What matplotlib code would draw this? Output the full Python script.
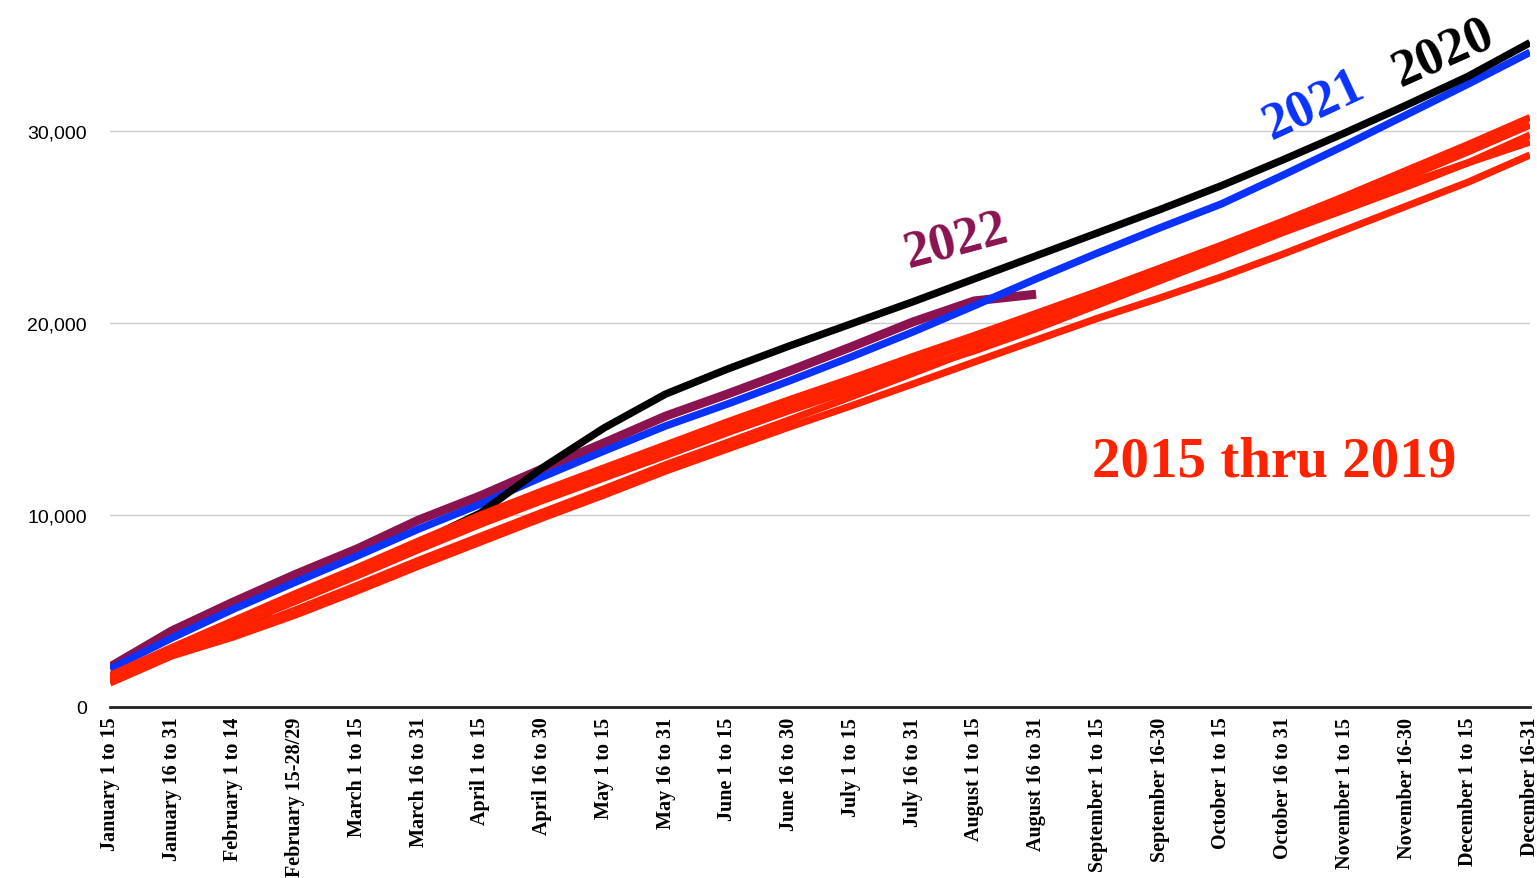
import matplotlib
matplotlib.use("Agg")
import matplotlib.pyplot as plt
from matplotlib.ticker import FuncFormatter

periods = ["January 1 to 15", "January 16 to 31", "February 1 to 14", "February 15-28/29",
           "March 1 to 15", "March 16 to 31", "April 1 to 15", "April 16 to 30",
           "May 1 to 15", "May 16 to 31", "June 1 to 15", "June 16 to 30",
           "July 1 to 15", "July 16 to 31", "August 1 to 15", "August 16 to 31",
           "September 1 to 15", "September 16-30", "October 1 to 15", "October 16 to 31",
           "November 1 to 15", "November 16-30", "December 1 to 15", "December 16-31"]

# 2015 thru 2019 (all drawn in red)
red_a = [1640, 3100, 4500, 5900, 7250, 8650, 10000, 11250, 12450, 13650, 14850, 16000,
         17100, 18250, 19350, 20500, 21650, 22850, 24050, 25300, 26600, 27950, 29300, 30700]
red_b = [1540, 2980, 4350, 5700, 7050, 8430, 9770, 11000, 12190, 13370, 14550, 15700,
         16780, 17900, 18970, 20120, 21300, 22520, 23730, 24980, 26250, 27580, 28920, 30310]
red_c = [1400, 2850, 4200, 5500, 6830, 8200, 9520, 10750, 11930, 13100, 14290, 15430,
         16500, 17550, 18550, 19700, 20950, 22200, 23450, 24720, 25900, 27100, 28350, 29790]
red_d = [1350, 2800, 3850, 5050, 6330, 7640, 8890, 10140, 11360, 12620, 13780, 14950,
         16150, 17380, 18620, 19900, 21150, 22350, 23550, 24800, 26050, 27250, 28350, 29430]
red_e = [1250, 2660, 3650, 4790, 6040, 7340, 8590, 9840, 11040, 12290, 13440, 14580,
         15680, 16820, 17970, 19110, 20250, 21300, 22400, 23590, 24840, 26090, 27340, 28750]

y2020 = [1600, 2900, 4000, 5650, 7050, 8550, 10100, 12450, 14530, 16300, 17600, 18800,
         19950, 21100, 22300, 23500, 24700, 25900, 27150, 28500, 29900, 31350, 32850, 34600]
y2021 = [1980, 3590, 5100, 6500, 7860, 9270, 10570, 11980, 13330, 14640, 15780, 16980,
         18230, 19530, 20900, 22300, 23650, 24950, 26200, 27700, 29250, 30850, 32450, 34100]
y2022 = [2080, 3960, 5470, 6900, 8230, 9740, 11000, 12400, 13750, 15150, 16300, 17500,
         18750, 20050, 21150, 21500]

RED = "#ff2200"
BLUE = "#0a32ff"
PURPLE = "#8a1350"

fig = plt.figure(figsize=(15.37, 8.79), dpi=100)
ax = fig.add_axes([110 / 1537, 1 - 708 / 879, 1420 / 1537, 708 / 879])

x = list(range(len(periods)))
ax.plot(range(len(y2022)), y2022, color=PURPLE, lw=6.5, solid_capstyle="butt", zorder=3)
ax.plot(x, y2021, color=BLUE, lw=5.4, solid_capstyle="butt", zorder=4)
ax.plot(x, y2020, color="black", lw=5.4, solid_capstyle="butt", zorder=5)
for r in (red_a, red_b, red_c, red_d, red_e):
    ax.plot(x, r, color=RED, lw=5.2, solid_capstyle="butt", zorder=6)

ax.set_xlim(0, len(periods) - 1)
ax.set_ylim(0, 36875)
ax.set_yticks([0, 10000, 20000, 30000])
ax.yaxis.set_major_formatter(FuncFormatter(lambda v, p: f"{int(v):,}"))
ax.grid(axis="y", color="#cccccc", lw=1)
ax.set_axisbelow(True)
for s in ("top", "right", "left"):
    ax.spines[s].set_visible(False)
ax.spines["bottom"].set_color("#222222")
ax.spines["bottom"].set_linewidth(2)
ax.spines["bottom"].set_zorder(7)

ax.set_xticks(x)
ax.set_xticklabels(periods, rotation=90, fontsize=14.5, fontweight="bold",
                   family="Liberation Serif", va="top")
ax.tick_params(axis="x", length=0, pad=7)
ax.tick_params(axis="y", length=0, pad=16.5, labelsize=14)
for t in ax.get_yticklabels():
    t.set_family("Liberation Sans")

serif = dict(family="Liberation Serif", fontweight="bold", ha="center", va="center")
ax.text(13.7, 24300, "2022", color=PURPLE, fontsize=38, rotation=15, **serif)
ax.text(19.5, 31400, "2021", color=BLUE, fontsize=38, rotation=25, **serif)
ax.text(21.6, 34100, "2020", color="black", fontsize=38, rotation=24, **serif)
ax.text(18.85, 12800, "2015 thru 2019", color=RED, fontsize=41, **serif)

fig.savefig("out.png", dpi=100)
